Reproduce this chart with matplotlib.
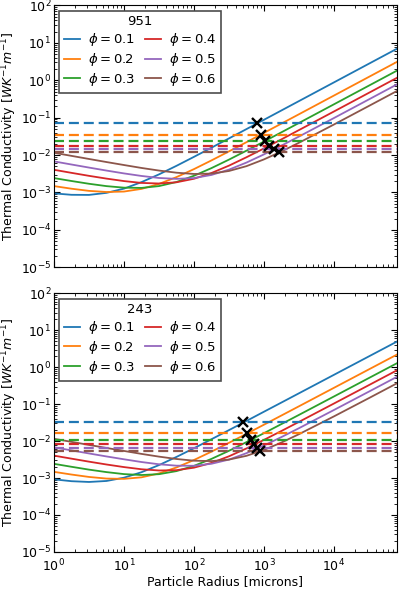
import numpy as np
import matplotlib
matplotlib.use("Agg")
import matplotlib.pyplot as plt
from matplotlib.ticker import LogLocator, NullFormatter

# particle radius grid [microns]
radius = np.array([1, 1.778, 3.162, 5.623, 10, 17.78, 31.62, 56.23, 100, 177.8,
                   316.2, 562.3, 1000, 1778, 3162, 10000, 31620, 79430])
phis = [0.1, 0.2, 0.3, 0.4, 0.5, 0.6]
colors = ['#1f77b4', '#ff7f0e', '#2ca02c', '#d62728', '#9467bd', '#8c564b']

# log10 of thermal conductivity, panel "951"
logk_951 = [
    [-3.024, -3.062, -3.065, -3.010, -2.897, -2.723, -2.516, -2.287, -2.047, -1.802,
     -1.554, -1.305, -1.056, -0.806, -0.556, -0.056, 0.444, 0.844],
    [-2.829, -2.899, -2.957, -2.987, -2.975, -2.904, -2.771, -2.589, -2.375, -2.142,
     -1.901, -1.655, -1.406, -1.157, -0.908, -0.408, 0.092, 0.492],
    [-2.615, -2.693, -2.767, -2.830, -2.871, -2.878, -2.829, -2.720, -2.553, -2.348,
     -2.121, -1.882, -1.638, -1.390, -1.141, -0.642, -0.142, 0.258],
    [-2.393, -2.475, -2.555, -2.629, -2.695, -2.744, -2.760, -2.727, -2.633, -2.479,
     -2.282, -2.058, -1.822, -1.579, -1.331, -0.834, -0.334, 0.066],
    [-2.169, -2.252, -2.334, -2.414, -2.490, -2.558, -2.612, -2.636, -2.614, -2.531,
     -2.389, -2.200, -1.981, -1.746, -1.504, -1.009, -0.510, -0.110],
    [-1.938, -2.021, -2.104, -2.186, -2.266, -2.344, -2.414, -2.471, -2.505, -2.495,
     -2.425, -2.296, -2.115, -1.902, -1.670, -1.182, -0.685, -0.286],
]
# log10 of thermal conductivity, panel "243"
logk_243 = [
    [-3.036, -3.086, -3.107, -3.080, -2.991, -2.843, -2.650, -2.429, -2.193, -1.950,
     -1.703, -1.455, -1.205, -0.956, -0.706, -0.206, 0.294, 0.694],
    [-2.833, -2.906, -2.971, -3.015, -3.023, -2.981, -2.876, -2.714, -2.512, -2.286,
     -2.047, -1.803, -1.556, -1.307, -1.058, -0.558, -0.058, 0.342],
    [-2.616, -2.696, -2.773, -2.840, -2.894, -2.919, -2.896, -2.813, -2.671, -2.482,
     -2.263, -2.028, -1.786, -1.539, -1.291, -0.792, -0.292, 0.108],
    [-2.394, -2.476, -2.557, -2.634, -2.704, -2.763, -2.796, -2.788, -2.720, -2.591,
     -2.412, -2.199, -1.967, -1.726, -1.480, -0.983, -0.484, -0.084],
    [-2.169, -2.252, -2.335, -2.416, -2.493, -2.567, -2.628, -2.666, -2.669, -2.614,
     -2.501, -2.327, -2.120, -1.891, -1.651, -1.158, -0.660, -0.260],
    [-1.938, -2.021, -2.104, -2.186, -2.267, -2.347, -2.421, -2.485, -2.531, -2.542,
     -2.501, -2.399, -2.239, -2.039, -1.813, -1.331, -0.836, -0.436],
]

# dashed reference levels [W K^-1 m^-1]
level_951 = [0.0708, 0.0355, 0.0240, 0.0178, 0.01455, 0.0119]
level_243 = [0.0323, 0.01637, 0.0108, 0.00813, 0.0066, 0.00543]

# radius where each curve crosses its level [microns]
cross_951 = [804, 902, 1023, 1175, 1380, 1620]
cross_243 = [501, 575, 645, 716, 804, 881]

plt.rcParams['font.size'] = 9
plt.rcParams['mathtext.fontset'] = 'dejavusans'
plt.rcParams['axes.unicode_minus'] = False

fig = plt.figure(figsize=(4.0, 5.89), dpi=100)
ax1 = fig.add_axes([0.135, 0.5462, 0.857, 0.4445])
ax2 = fig.add_axes([0.135, 0.0630, 0.857, 0.4390])

panels = [(ax1, '951', logk_951, level_951, cross_951),
          (ax2, '243', logk_243, level_243, cross_243)]

for ax, name, logk, levels, crosses in panels:
    for i, phi in enumerate(phis):
        ax.loglog(radius, 10 ** np.array(logk[i]), color=colors[i], lw=1.3,
                  label=r'$\phi = %.1f$' % phi)
    for i in range(len(phis)):
        ax.axhline(levels[i], color=colors[i], lw=1.6, ls=(0, (4.5, 2.2)))
    ax.plot(crosses, levels, 'x', color='k', ms=6.5, mew=1.7, ls='none')

    ax.set_xlim(1, 7.9e4)
    ax.set_ylim(1e-5, 1e2)
    ax.set_yticks([10.0 ** e for e in range(-5, 3)])
    ax.yaxis.set_minor_locator(LogLocator(base=10, subs=np.arange(2, 10), numticks=20))
    ax.yaxis.set_minor_formatter(NullFormatter())
    ax.tick_params(which='both', direction='in', top=True, right=True,
                   labelsize=9, pad=2)
    ax.tick_params(which='major', length=4, width=0.8)
    ax.tick_params(which='minor', length=2, width=0.6)
    ax.set_ylabel(r'Thermal Conductivity [$WK^{-1}m^{-1}$]', fontsize=9,
                  labelpad=1)
    leg = ax.legend(loc='upper left', ncol=2, title=name, fontsize=9.5,
                    title_fontsize=9.5, fancybox=False, edgecolor='0.3',
                    framealpha=1, handlelength=1.2, columnspacing=0.8,
                    handletextpad=0.6, borderaxespad=0.4, labelspacing=0.22,
                    borderpad=0.35)
    leg.get_frame().set_linewidth(1.2)

ax1.tick_params(labelbottom=False)
ax2.tick_params(axis='x', pad=4.5)
ax2.set_xlabel('Particle Radius [microns]', fontsize=9, labelpad=0)

fig.savefig('out.png', dpi=100)
